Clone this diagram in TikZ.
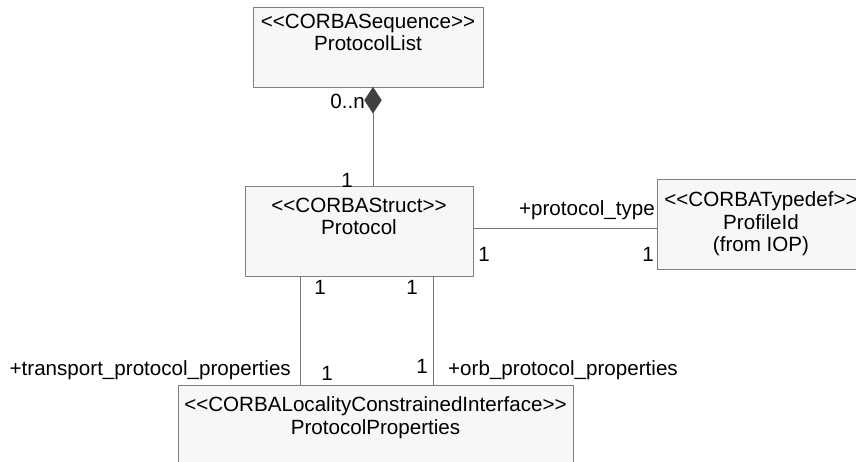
\documentclass[tikz,border=0pt]{standalone}
\usepackage{fontspec}
\setmainfont{Liberation Sans}
\usetikzlibrary{shapes.geometric}
\newcommand{\stereo}[1]{<{}<#1>{}>}

\begin{document}
\begin{tikzpicture}[x=1pt,y=-1pt,font=\fontsize{20.6}{22.5}\selectfont,
 umlclass/.style={draw=black!50,fill=black!3,align=center,inner sep=0pt},
 role/.style={inner sep=0pt},
 assoc/.style={draw=black!55},
 comp/.style={diamond,fill=black!75,draw=black!75,inner sep=0pt,minimum width=17,minimum height=26}]
\useasboundingbox (0,0) rectangle (856,461);
% classes
\node[umlclass,minimum width=230,minimum height=80] (list) at (368,47) {\stereo{CORBASequence}\\ProtocolList\\\strut};
\node[umlclass,minimum width=228,minimum height=90] (proto) at (359,231) {\stereo{CORBAStruct}\\Protocol\\\strut};
\node[umlclass,minimum width=208,minimum height=90] (prof) at (761,224) {\stereo{CORBATypedef}\\ProfileId\\(from IOP)};
\node[umlclass,minimum width=395,minimum height=90] (props) at (375.5,430) {\stereo{CORBALocalityConstrainedInterface}\\ProtocolProperties\\\strut};
% composition
\node[comp,anchor=north] (dia) at (373,87) {};
\draw[assoc] (dia.south) -- (dia.south |- proto.north);
% associations
\draw[assoc] ([yshift=3pt]proto.east) -- ([yshift=3pt]proto.east -| prof.west);
\draw[assoc] ([xshift=-59pt]proto.south) -- ([xshift=-59pt]proto.south |- props.north);
\draw[assoc] ([xshift=74pt]proto.south) -- ([xshift=74pt]proto.south |- props.north);
% roles and multiplicities
\node[role,anchor=east] (mlist) at (365,101) {0..n};
\node[role] (mtop) at (347,180) {1};
\node[role,anchor=east] (rtype) at (655,210) {+protocol\_type};
\node[role] (mpl) at (484,254) {1};
\node[role] (mpr) at (648,254) {1};
\node[role] (mtl) at (320,287) {1};
\node[role] (mtr) at (412,287) {1};
\node[role,anchor=east] (rtrans) at (291,370) {+transport\_protocol\_properties};
\node[role] (mbl) at (327,373) {1};
\node[role] (mbr) at (422,366) {1};
\node[role,anchor=west] (rorb) at (448,370) {+orb\_protocol\_properties};
\end{tikzpicture}
\end{document}
